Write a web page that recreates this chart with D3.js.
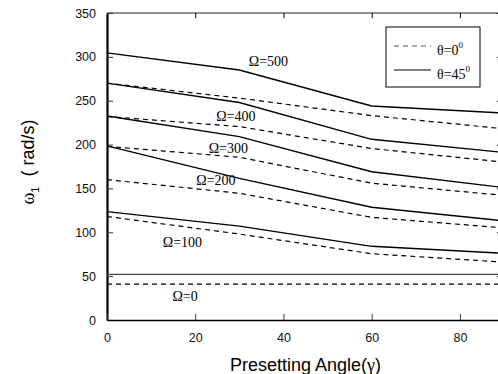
<!DOCTYPE html>
<html>
<head>
<meta charset="utf-8">
<script src="https://cdn.jsdelivr.net/npm/d3@7"></script>
<style>
  html, body { margin: 0; padding: 0; background: #fff; }
  svg { display: block; }
</style>
</head>
<body>
<svg id="chart" width="498" height="374"></svg>
<script>
// ---- data ----
const angles = [0, 30, 60, 90];                 // presetting angle γ (deg)
const omegas = [0, 100, 200, 300, 400, 500];    // Ω values
// θ = 0° (dashed), one row per Ω
const theta0Values = [
  [41, 41, 41, 41],
  [118, 98, 75.5, 66],
  [160, 144.5, 117, 105],
  [198, 185.5, 156, 142],
  [232, 220.5, 195.5, 180],
  [270, 253, 233, 218]
];
// θ = 45° (solid), one row per Ω
const theta45Values = [
  [52, 52, 52, 52],
  [123.5, 107, 84, 76],
  [198.5, 161.5, 128.5, 113],
  [232.5, 209, 169, 151],
  [270, 248, 206, 191],
  [304.5, 285, 244, 236]
];
// Ω label anchors (angle, ω1) in data units
const labelAngles = [17.7, 17.1, 24.7, 27.5, 29.2, 36.6];
const labelValues = [26.6, 87.8, 158.8, 195, 231.5, 294.5];
const yTicks = [0, 50, 100, 150, 200, 250, 300, 350];
const xTicks = [0, 20, 40, 60, 80];
const legendLabels = ["θ=0", "θ=45"];

// ---- drawing ----
const svg = d3.select("#chart");
const x = d3.scaleLinear().domain([0, 90]).range([107, 504]);
const y = d3.scaleLinear().domain([0, 350]).range([320, 13]);

const sans = "'Liberation Sans', Arial, sans-serif";
const serif = "'Liberation Serif', 'Times New Roman', serif";

// frame: top and right lines
svg.append("line").attr("x1", x(0)).attr("x2", x(90)).attr("y1", y(350)).attr("y2", y(350))
  .attr("stroke", "#222").attr("stroke-width", 1);
svg.append("line").attr("x1", x(90)).attr("x2", x(90)).attr("y1", y(350)).attr("y2", y(0))
  .attr("stroke", "#222").attr("stroke-width", 1);

// Axes
const yAxis = d3.axisLeft(y).tickValues(yTicks).tickSizeInner(-6).tickSizeOuter(0).tickPadding(11);
const gy = svg.append("g").attr("transform", `translate(${x(0)},0)`).call(yAxis);
gy.select(".domain").attr("stroke", "#000").attr("stroke-width", 2.2);
gy.selectAll(".tick line").attr("stroke", "#333").attr("stroke-width", 1);
gy.selectAll(".tick text").attr("font-family", sans).attr("font-size", 12.5).attr("fill", "#111");

const yAxisR = d3.axisRight(y).tickValues(yTicks).tickSizeInner(-7).tickSizeOuter(0).tickFormat("");
svg.append("g").attr("transform", `translate(${x(90)},0)`).call(yAxisR)
  .select(".domain").attr("stroke", "#222");

const xAxis = d3.axisBottom(x).tickValues(xTicks).tickSizeInner(-6).tickSizeOuter(0).tickPadding(13);
const gx = svg.append("g").attr("transform", `translate(0,${y(0)})`).call(xAxis);
gx.select(".domain").attr("stroke", "#000").attr("stroke-width", 1.6);
gx.selectAll(".tick line").attr("stroke", "#333");
gx.selectAll(".tick text").attr("font-family", sans).attr("font-size", 12.5).attr("fill", "#111");

const xAxisTop = d3.axisTop(x).tickValues(xTicks.filter(d => d > 0)).tickSizeInner(-5).tickSizeOuter(0).tickFormat("");
svg.append("g").attr("transform", `translate(0,${y(350)})`).call(xAxisTop)
  .select(".domain").attr("stroke", "none");

// Lines
const line = d3.line().x((d, i) => x(angles[i])).y(d => y(d));
const gLines = svg.append("g");
theta0Values.forEach(vals => {
  gLines.append("path").attr("d", line(vals)).attr("fill", "none")
    .attr("stroke", "#000").attr("stroke-width", 1.2).attr("stroke-dasharray", "5,4");
});
theta45Values.forEach((vals, k) => {
  gLines.append("path").attr("d", line(vals)).attr("fill", "none")
    .attr("stroke", k === 0 ? "#444" : "#000").attr("stroke-width", 1.4);
});

// Ω labels
omegas.forEach((w, i) => {
  svg.append("text")
    .attr("x", x(labelAngles[i])).attr("y", y(labelValues[i]))
    .attr("text-anchor", "middle").attr("dominant-baseline", "central")
    .attr("font-family", serif).attr("font-size", 14).attr("fill", "#000")
    .text("Ω=" + w);
});

// Legend
const lg = svg.append("g");
lg.append("rect").attr("x", 386).attr("y", 27).attr("width", 94).attr("height", 60)
  .attr("fill", "#fff").attr("stroke", "#000").attr("stroke-width", 1);
const legendStyles = [{dash: "5,4"}, {dash: null}];
legendLabels.forEach((lab, i) => {
  const ly = 46 + i * 24;
  const l = lg.append("line").attr("x1", 394).attr("x2", 431).attr("y1", ly).attr("y2", ly)
    .attr("stroke", "#000").attr("stroke-width", 1.2);
  if (legendStyles[i].dash) l.attr("stroke-dasharray", legendStyles[i].dash).attr("stroke", "#555");
  const t = lg.append("text").attr("x", 437).attr("y", ly + 9)
    .attr("font-family", serif).attr("font-size", 14).attr("fill", "#000");
  t.append("tspan").text(lab);
  t.append("tspan").attr("font-size", 9).attr("dy", -7).text("0");
});

// Axis titles
svg.append("text")
  .attr("x", (x(0) + x(90)) / 2).attr("y", 371)
  .attr("text-anchor", "middle").attr("font-family", sans).attr("font-size", 18).attr("fill", "#000")
  .call(t => {
    t.append("tspan").text("Presetting Angle(");
    t.append("tspan").attr("font-family", serif).text("γ");
    t.append("tspan").text(")");
  });

svg.append("text")
  .attr("transform", `translate(34,162) rotate(-90)`)
  .attr("text-anchor", "middle").attr("font-family", sans).attr("font-size", 18).attr("fill", "#000")
  .call(t => {
    t.append("tspan").attr("font-family", serif).text("ω");
    t.append("tspan").attr("font-size", 11).attr("dy", 5).text("1");
    t.append("tspan").attr("dy", -5).text("\u00a0\u00a0( rad/s)");
  });
</script>
</body>
</html>
